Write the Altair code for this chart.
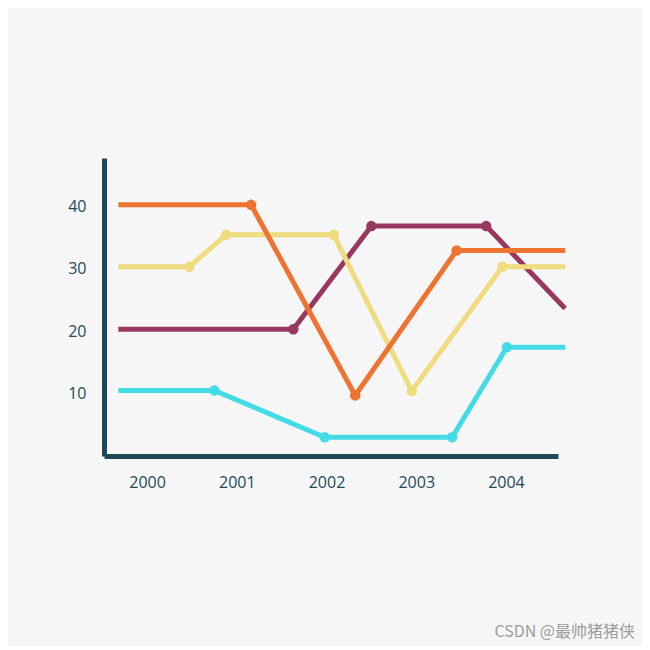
import altair as alt
import pandas as pd

# series (x in fractional years, y in axis units)
series_names = ["cyan", "purple", "yellow", "orange"]
series_colors = ["#43dbe6", "#98385e", "#efdc7e", "#ee7431"]

cyan_x = [1999.68, 2000.75, 2001.98, 2003.40, 2004.01, 2004.66]
cyan_y = [10.5, 10.5, 3.0, 3.0, 17.4, 17.4]

purple_x = [1999.68, 2001.63, 2002.50, 2003.78, 2004.66]
purple_y = [20.3, 20.3, 36.8, 36.8, 23.6]

yellow_x = [1999.68, 2000.47, 2000.88, 2002.08, 2002.95, 2003.96, 2004.66]
yellow_y = [30.3, 30.3, 35.4, 35.4, 10.4, 30.3, 30.3]

orange_x = [1999.68, 2001.16, 2002.32, 2003.45, 2004.66]
orange_y = [40.2, 40.2, 9.7, 32.9, 32.9]

x_ticks = [2000, 2001, 2002, 2003, 2004]
y_ticks = [10, 20, 30, 40]

rows = []
for name, xs, ys in [("cyan", cyan_x, cyan_y), ("purple", purple_x, purple_y),
                     ("yellow", yellow_x, yellow_y), ("orange", orange_x, orange_y)]:
    for i, (x, y) in enumerate(zip(xs, ys)):
        # no dot on the two open ends of each line
        rows.append({"series": name, "year": x, "value": y, "order": i,
                     "dot": 0 < i < len(xs) - 1})
df = pd.DataFrame(rows)

axis_color = "#1e4a57"
x_enc = alt.X("year:Q", scale=alt.Scale(domain=[1999.52, 2004.58], nice=False, zero=False),
              axis=alt.Axis(values=x_ticks, format="d", title=None, grid=False, ticks=False,
                            domainColor=axis_color, domainWidth=5, labelPadding=18,
                            labelColor=axis_color, labelFontSize=16, labelFont="Open Sans"))
y_enc = alt.Y("value:Q", scale=alt.Scale(domain=[0, 47.7], nice=False),
              axis=alt.Axis(values=y_ticks, title=None, grid=False, ticks=False,
                            domainColor=axis_color, domainWidth=5, labelPadding=18,
                            labelColor=axis_color, labelFontSize=16, labelFont="Open Sans"))
color_enc = alt.Color("series:N", scale=alt.Scale(domain=series_names, range=series_colors),
                      legend=None)

base = alt.Chart(df)
lines = base.mark_line(strokeWidth=5, clip=False).encode(
    x=x_enc, y=y_enc, color=color_enc, order="order:Q"
)
dots = base.transform_filter(alt.datum.dot).mark_circle(size=110, opacity=1).encode(
    x=x_enc, y=y_enc, color=color_enc
)

watermark = alt.Chart(pd.DataFrame({"t": ["CSDN @最帅猪猪侠"]})).mark_text(
    align="right", baseline="middle", fontSize=16, color="#9c9c9c",
    font="Noto Sans CJK SC"
).encode(text="t:N", x=alt.value(531), y=alt.value(474))

chart = alt.layer(lines, dots, watermark).properties(
    width=454, height=298,
    autosize=alt.AutoSizeParams(type="none"),
    padding={"left": 96, "top": 150, "right": 84, "bottom": 190},
    background="#f6f6f6",
).configure_view(stroke=None)

chart.save("out.html", embed_options={"renderer": "svg", "actions": False})
